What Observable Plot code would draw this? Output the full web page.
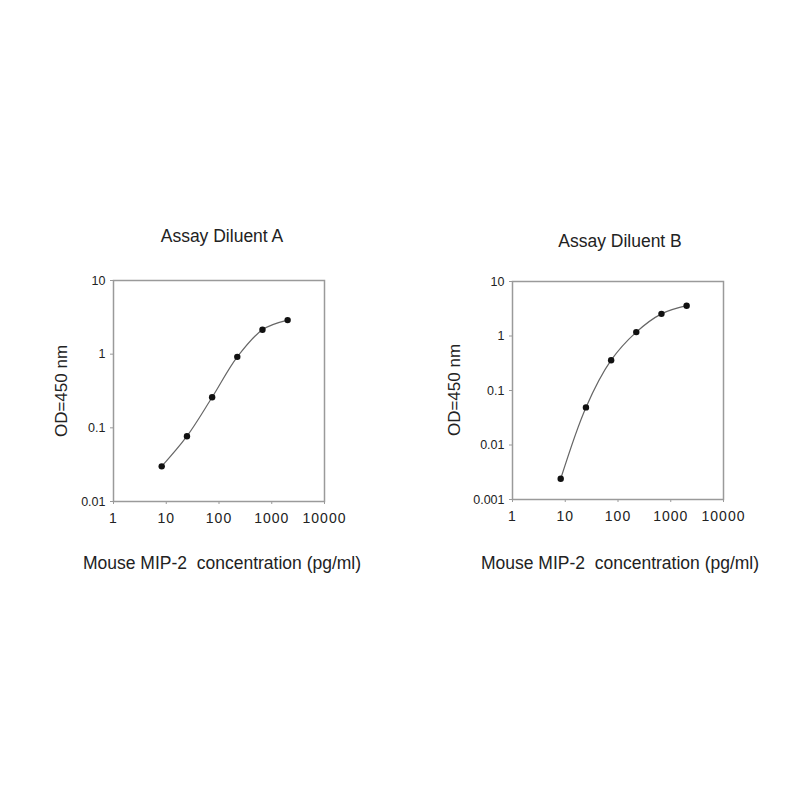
<!DOCTYPE html>
<html>
<head>
<meta charset="utf-8">
<script src="https://cdn.jsdelivr.net/npm/d3@7"></script>
<script src="https://cdn.jsdelivr.net/npm/@observablehq/plot@0.6"></script>
<style>
  html, body { margin: 0; padding: 0; background: #fff; }
  #page { position: relative; width: 800px; height: 800px; background: #fff; font-family: "Liberation Sans", Arial, sans-serif; color: #222; }
  .abs { position: absolute; }
  .lbl { position: absolute; transform: translate(-50%, -50%); white-space: pre; font-size: 17.5px; color: #222; }
  .ylbl { position: absolute; transform: translate(-50%, -50%) rotate(-90deg); white-space: pre; font-size: 17px; color: #222; }
  svg .xt text { letter-spacing: 1px; }
</style>
</head>
<body>
<div id="page"></div>
<script>
// Concentrations (pg/ml), 3-fold serial dilution
const concentration = [8.2, 24.7, 74.1, 222.2, 666.7, 2000];
// OD450 readings
const odDiluentA = [0.030, 0.077, 0.26, 0.92, 2.15, 2.9];
const odDiluentB = [0.0024, 0.049, 0.36, 1.18, 2.55, 3.6];
const xTicks = [1, 10, 100, 1000, 10000];
const yTicksA = [0.01, 0.1, 1, 10];
const yTicksB = [0.001, 0.01, 0.1, 1, 10];
const titles = ["Assay Diluent A", "Assay Diluent B"];
const xLabel = "Mouse MIP-2  concentration (pg/ml)";
const yLabel = "OD=450 nm";

const page = document.getElementById("page");

function panel(values, yDomain, yTicks, opts) {
  const data = concentration.map((c, i) => ({c, od: values[i]}));
  const fmt = d => String(d);
  const chart = Plot.plot({
    width: 320,
    height: 330,
    marginLeft: opts.ml,
    marginRight: opts.mr,
    marginTop: opts.mt,
    marginBottom: opts.mb,
    style: {fontFamily: "Liberation Sans, Arial, sans-serif", fontSize: "12px", color: "#222", background: "#fff"},
    x: {type: "log", domain: [1, 10000], label: null},
    y: {type: "log", domain: yDomain, label: null},
    marks: [
      Plot.frame({stroke: "#9a9a9a", strokeWidth: 1.5}),
      Plot.axisX({ticks: xTicks, tickFormat: fmt, tickSize: 3, tickPadding: 9, stroke: "#9a9a9a", fontSize: 14, label: null, className: "xt"}),
      Plot.axisY({ticks: yTicks, tickFormat: fmt, tickSize: 3, tickPadding: 5, stroke: "#9a9a9a", fontSize: 12.5, label: null}),
      Plot.line(data, {x: "c", y: "od", curve: "catmull-rom", stroke: "#666", strokeWidth: 1.2}),
      Plot.dot(data, {x: "c", y: "od", r: 3.2, fill: "#111", stroke: "none"})
    ]
  });
  chart.classList.add("abs");
  chart.style.left = opts.left + "px";
  chart.style.top = opts.top + "px";
  page.appendChild(chart);
}

panel(odDiluentA, [0.01, 10], yTicksA, {left: 40, top: 220, ml: 73, mr: 36, mt: 60, mb: 49});
panel(odDiluentB, [0.001, 10], yTicksB, {left: 440, top: 220, ml: 72, mr: 37, mt: 61, mb: 51});

function addText(cls, text, x, y) {
  const d = document.createElement("div");
  d.className = cls;
  d.textContent = text;
  d.style.left = x + "px";
  d.style.top = y + "px";
  page.appendChild(d);
}
addText("lbl", titles[0], 222, 236);
addText("lbl", titles[1], 620, 241);
addText("lbl", xLabel, 222, 563);
addText("lbl", xLabel, 620, 563);
addText("ylbl", yLabel, 62, 391);
addText("ylbl", yLabel, 455, 390);
</script>
</body>
</html>
